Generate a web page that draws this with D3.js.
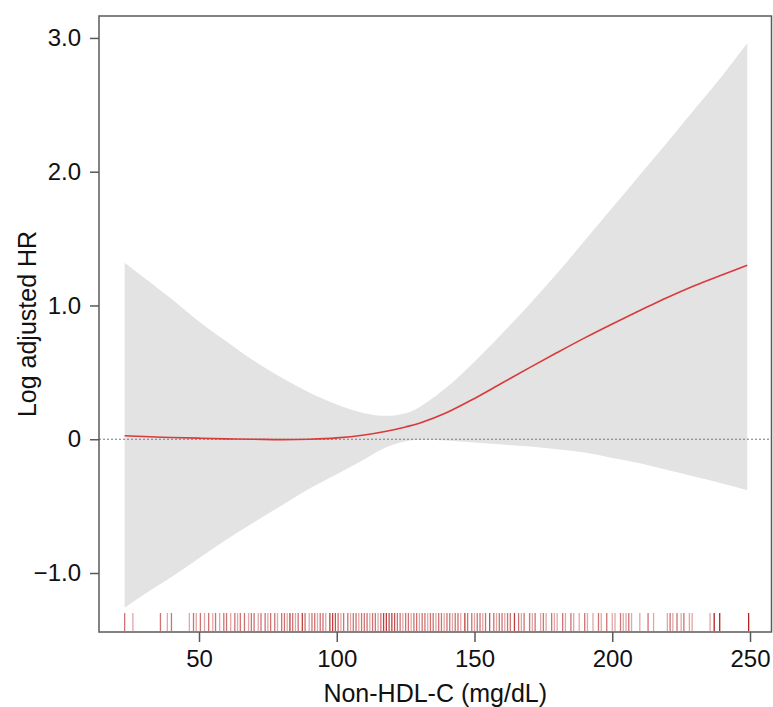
<!DOCTYPE html>
<html>
<head>
<meta charset="utf-8">
<script src="https://cdn.jsdelivr.net/npm/d3@7"></script>
<style>
  body { margin: 0; background: #fff; }
  svg { display: block; font-family: "Liberation Sans", Arial, Helvetica, sans-serif; }
</style>
</head>
<body>
<svg id="chart" width="773" height="707"></svg>
<script>
// spline estimate (log HR) with 95% band
const nonHdl = [23, 30, 40, 50, 60, 70, 80, 90, 100, 110, 118, 125, 130, 140, 150, 160, 170, 180, 190, 200, 210, 220, 230, 240, 249];
const logHR = [0.026, 0.02, 0.013, 0.008, 0.003, 0.0, -0.003, 0.0, 0.01, 0.032, 0.06, 0.092, 0.12, 0.2, 0.305, 0.42, 0.535, 0.648, 0.758, 0.862, 0.962, 1.06, 1.15, 1.23, 1.30];
const upperCI = [1.32, 1.21, 1.05, 0.88, 0.73, 0.585, 0.46, 0.35, 0.26, 0.195, 0.175, 0.195, 0.24, 0.39, 0.58, 0.79, 1.01, 1.24, 1.485, 1.73, 1.975, 2.22, 2.47, 2.72, 2.96];
const lowerCI = [-1.26, -1.16, -1.03, -0.89, -0.75, -0.62, -0.495, -0.37, -0.262, -0.15, -0.06, -0.015, -0.004, -0.01, -0.025, -0.04, -0.055, -0.075, -0.10, -0.14, -0.18, -0.23, -0.28, -0.33, -0.38];

// rug: observed values and how many fall on each
const rugValues = [23, 26, 36, 38.5, 40, 46.5, 48, 49, 50.5, 52, 53.5, 55, 56, 57.5, 59, 60, 61.5, 63, 64, 65, 66.5, 68, 69, 70, 71.5, 72.5, 74, 75, 76, 77.5, 78.5, 80, 81, 82, 83, 84, 85, 86, 87.5, 88.5, 90, 91, 92, 93, 94, 95, 96, 97.5, 98.5, 99.5, 100.5, 101.5, 102.5, 104, 105, 106, 107, 108, 109, 110, 111, 112, 113, 114, 115, 116, 117, 118, 119, 120, 121, 122, 123, 124, 125, 126, 127, 128, 129, 130, 131, 132, 133, 134, 135, 136, 137, 138, 139, 140, 141, 142, 143, 144, 145, 146.5, 147.5, 149, 150, 151, 152, 153, 154, 155.5, 157, 158, 159, 160, 161, 162, 163, 164.5, 166, 167, 168, 170, 171, 172, 174, 175, 176, 178, 179, 180, 182, 183, 185, 186, 188, 190, 191, 193, 195, 196, 198, 200, 201, 203, 204, 205, 206, 207, 210, 213, 215, 220, 221, 222, 223.5, 225, 226, 228, 229, 235.5, 237, 239, 249.5];
const rugCounts = [2, 1, 2, 1, 2, 1, 2, 1, 2, 1, 2, 1, 2, 1, 2, 2, 1, 2, 1, 2, 2, 1, 2, 2, 1, 2, 2, 1, 2, 2, 1, 2, 2, 1, 4, 2, 1, 2, 4, 2, 1, 2, 2, 1, 2, 2, 1, 4, 4, 3, 2, 1, 2, 2, 1, 2, 2, 1, 2, 2, 2, 1, 2, 2, 1, 2, 4, 4, 3, 4, 3, 2, 2, 1, 2, 2, 1, 2, 2, 1, 2, 2, 1, 2, 2, 1, 2, 2, 1, 2, 2, 1, 2, 2, 1, 4, 2, 2, 1, 2, 2, 1, 2, 3, 2, 1, 2, 2, 1, 2, 2, 4, 2, 1, 2, 2, 1, 2, 1, 2, 1, 2, 1, 1, 2, 1, 2, 1, 1, 2, 1, 1, 2, 1, 2, 1, 1, 2, 1, 1, 2, 1, 1, 2, 1, 1, 2, 1, 2, 1, 2, 1, 1, 1];

const xTicks = [50, 100, 150, 200, 250];
const yTicks = [-1, 0, 1, 2, 3];
const yTickLabels = ["\u22121.0", "0", "1.0", "2.0", "3.0"];

const margin = { top: 16, right: 1.5, bottom: 75, left: 99 };
const width = 773;
const height = 707;

const svg = d3.select("#chart");

const x = d3.scaleLinear()
  .domain([13.7, 257.8])
  .range([margin.left, width - margin.right]);

const y = d3.scaleLinear()
  .domain([-1.441, 3.164])
  .range([height - margin.bottom, margin.top]);

const pts = nonHdl.map((d, i) => ({ x: d, est: logHR[i], lo: lowerCI[i], hi: upperCI[i] }));
const smooth = d3.curveCatmullRom.alpha(0.5);

// confidence band
svg.append("path")
  .datum(pts)
  .attr("fill", "#e3e3e3")
  .attr("d", d3.area()
    .x(d => x(d.x))
    .y0(d => y(d.lo))
    .y1(d => y(d.hi))
    .curve(smooth));

// reference line at 0
svg.append("line")
  .attr("x1", margin.left)
  .attr("x2", width - margin.right)
  .attr("y1", y(0))
  .attr("y2", y(0))
  .attr("stroke", "#777")
  .attr("stroke-width", 1)
  .attr("stroke-dasharray", "2,2");

// estimate
svg.append("path")
  .datum(pts)
  .attr("fill", "none")
  .attr("stroke", "#d93a3a")
  .attr("stroke-width", 1.6)
  .attr("d", d3.line()
    .x(d => x(d.x))
    .y(d => y(d.est))
    .curve(smooth));

// rug
const rugBottom = height - margin.bottom - 1;
svg.append("g")
  .selectAll("line")
  .data(rugValues.map((v, i) => ({ v: v, n: rugCounts[i] })))
  .enter().append("line")
  .attr("x1", d => x(d.v))
  .attr("x2", d => x(d.v))
  .attr("y1", rugBottom - 18)
  .attr("y2", rugBottom)
  .attr("stroke", "#b22222")
  .attr("stroke-width", 1.3)
  .attr("stroke-opacity", d => 1 - Math.pow(0.6, d.n));

// axes
const yAxis = svg.append("g")
  .attr("transform", `translate(${margin.left},0)`)
  .call(d3.axisLeft(y).tickValues(yTicks).tickFormat((d, i) => yTickLabels[i]).tickSize(9).tickPadding(9));

const xAxis = svg.append("g")
  .attr("transform", `translate(0,${height - margin.bottom})`)
  .call(d3.axisBottom(x).tickValues(xTicks).tickFormat(d3.format("d")).tickSize(10).tickPadding(8));

[yAxis, xAxis].forEach(g => {
  g.select(".domain").remove();
  g.selectAll(".tick line").attr("stroke", "#595959").attr("stroke-width", 1.5);
  g.selectAll(".tick text").attr("fill", "#111").style("font-size", "24px");
});

// frame
svg.append("rect")
  .attr("x", margin.left)
  .attr("y", margin.top)
  .attr("width", width - margin.right - margin.left)
  .attr("height", height - margin.bottom - margin.top)
  .attr("fill", "none")
  .attr("stroke", "#595959")
  .attr("stroke-width", 1.5);

svg.append("text")
  .attr("x", (margin.left + width - margin.right) / 2)
  .attr("y", 702)
  .attr("text-anchor", "middle")
  .attr("fill", "#111")
  .style("font-size", "25px")
  .text("Non-HDL-C (mg/dL)");

svg.append("text")
  .attr("transform", "rotate(-90)")
  .attr("x", -(margin.top + height - margin.bottom) / 2)
  .attr("y", 36)
  .attr("text-anchor", "middle")
  .attr("fill", "#111")
  .style("font-size", "25px")
  .text("Log adjusted HR");
</script>
</body>
</html>
